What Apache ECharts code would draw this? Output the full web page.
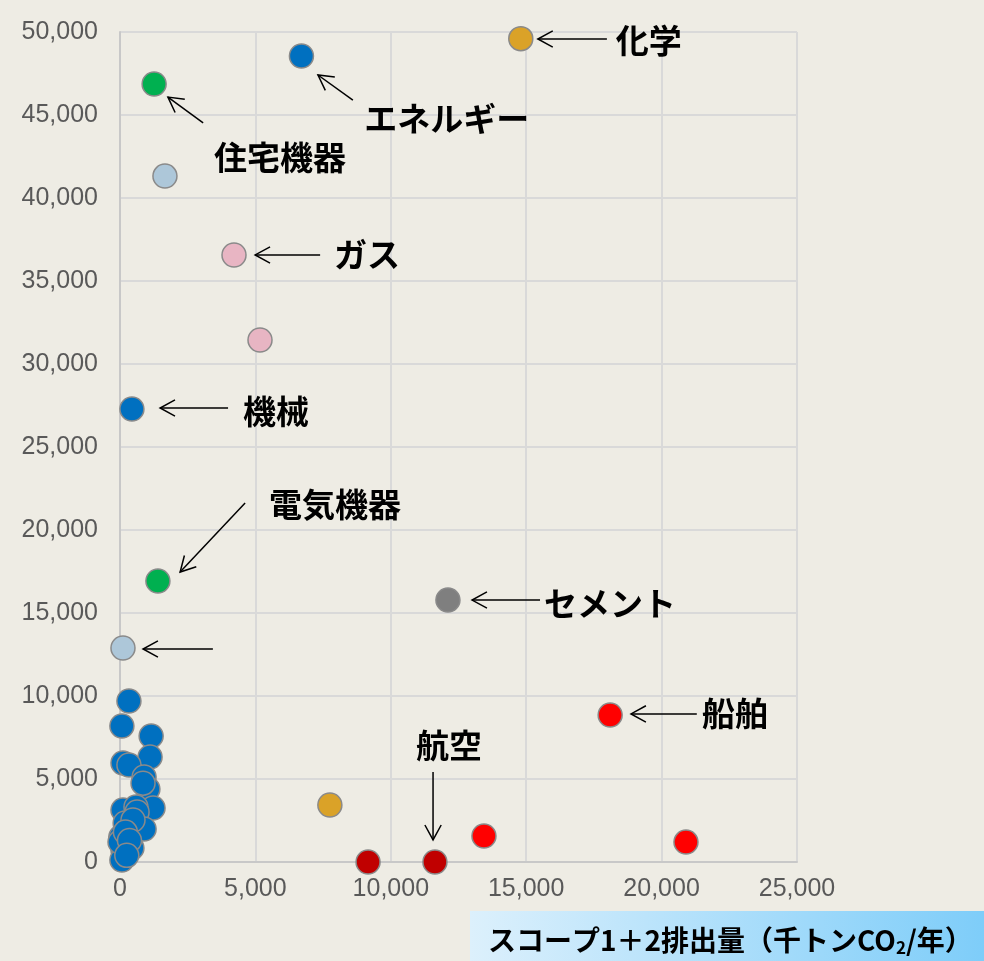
<!DOCTYPE html>
<html>
<head>
<meta charset="utf-8">
<title>スコープ1＋2排出量</title>
<style>
  html, body { margin: 0; padding: 0; background: #eeece4; }
  #main { width: 984px; height: 961px; }
</style>
</head>
<body>
<div id="main"></div>
<script src="https://cdn.jsdelivr.net/npm/echarts@6/dist/echarts.min.js"></script>
<script>
// 散布図のデータ [x, y]
var bluePts = [[6700, 48550], [440, 27290], [330, 9700], [70, 8190], [1150, 7590], [1110, 6330],
  [110, 5960], [330, 5840], [890, 5120], [1030, 4400], [1220, 3250], [110, 3130], [590, 3310],
  [630, 3010], [890, 1990], [190, 2350], [480, 2530], [30, 1500], [300, 900], [110, 720],
  [70, 120], [440, 840], [0, 1200], [200, 1800], [350, 1300], [250, 400], [850, 4750]];
var greenPts = [[1260, 46870], [1400, 16930]];
var lightBluePts = [[1660, 41320], [110, 12890]];
var pinkPts = [[4210, 36570], [5170, 31450]];
var goldPts = [[14800, 49600], [7750, 3430]];
var grayPts = [[12110, 15780]];
var redPts = [[18100, 8860], [20900, 1200], [13440, 1570]];
var darkRedPts = [[9160, 0], [11630, 0]];

// 注記 (データ座標): 矢印の根元, 先端, ラベル位置
var noteNames = ['化学', 'エネルギー', '住宅機器', 'ガス', '機械', '電気機器', '', 'セメント', '船舶', '航空'];
var noteTail = [[17980, 49580], [8600, 45900], [3070, 44520], [7390, 36570], [3990, 27350], [4620, 21630], [3430, 12830], [15510, 15780], [21300, 8920], [11560, 5420]];
var noteTip = [[15430, 49580], [7310, 47410], [1770, 46080], [4990, 36570], [1480, 27350], [2220, 17470], [850, 12830], [13000, 15780], [18870, 8920], [11560, 1330]];
var noteLabel = [[19530, 49520], [12070, 44820], [5910, 42470], [9120, 36570], [5760, 27170], [7940, 21510], null, [18090, 15600], [22710, 8920], [12150, 7050]];

var chart = echarts.init(document.getElementById('main'));

function pts(name, data, color) {
  return {
    name: name,
    type: 'scatter',
    data: data,
    symbolSize: 24,
    itemStyle: { color: color, borderColor: '#8a8a8a', borderWidth: 1.5, opacity: 1 },
    emphasis: { disabled: true }
  };
}

var axisLabel = { color: '#595959', fontSize: 25, fontFamily: 'Liberation Sans, Arial, sans-serif' };

chart.setOption({
  backgroundColor: '#eeece4',
  animation: false,
  grid: { left: 120, right: 187, top: 32, bottom: 99 },
  xAxis: {
    type: 'value', min: 0, max: 25000, interval: 5000,
    axisLine: { show: true, onZero: false, lineStyle: { color: '#c8c8c8', width: 2 } },
    axisTick: { show: false },
    splitLine: { lineStyle: { color: '#d9d9d9', width: 2 } },
    axisLabel: Object.assign({ margin: 15, formatter: function (v) { return v.toLocaleString('en-US'); } }, axisLabel)
  },
  yAxis: {
    type: 'value', min: 0, max: 50000, interval: 5000,
    axisLine: { show: true, lineStyle: { color: '#c8c8c8', width: 2 } },
    axisTick: { show: false },
    splitLine: { lineStyle: { color: '#d9d9d9', width: 2 } },
    axisLabel: Object.assign({ margin: 22, formatter: function (v) { return v.toLocaleString('en-US'); } }, axisLabel)
  },
  series: [
    pts('blue', bluePts, '#0070c0'),
    pts('green', greenPts, '#00b050'),
    pts('lightblue', lightBluePts, '#adc7d9'),
    pts('pink', pinkPts, '#e8b5c3'),
    pts('gold', goldPts, '#daa228'),
    pts('gray', grayPts, '#7f7f7f'),
    pts('red', redPts, '#ff0000'),
    pts('darkred', darkRedPts, '#c00000')
  ]
});

// 矢印と注記ラベルを描く
var g = [];
for (var i = 0; i < noteNames.length; i++) {
  var a = chart.convertToPixel({ gridIndex: 0 }, noteTail[i]);
  var b = chart.convertToPixel({ gridIndex: 0 }, noteTip[i]);
  var ang = Math.atan2(a[1] - b[1], a[0] - b[0]);
  var len = 17, spread = 0.5;
  g.push({
    type: 'line', silent: true,
    shape: { x1: a[0], y1: a[1], x2: b[0], y2: b[1] },
    style: { stroke: '#000', lineWidth: 1.5 }
  });
  g.push({
    type: 'polyline', silent: true,
    shape: { points: [
      [b[0] + len * Math.cos(ang + spread), b[1] + len * Math.sin(ang + spread)],
      [b[0], b[1]],
      [b[0] + len * Math.cos(ang - spread), b[1] + len * Math.sin(ang - spread)]
    ] },
    style: { stroke: '#000', lineWidth: 1.5, fill: null }
  });
  if (noteLabel[i]) {
    var p = chart.convertToPixel({ gridIndex: 0 }, noteLabel[i]);
    g.push({
      type: 'text', silent: true, x: p[0], y: p[1],
      style: {
        text: noteNames[i], fill: '#000', align: 'center', verticalAlign: 'middle',
        font: 'bold 33px "Noto Sans CJK JP", sans-serif'
      }
    });
  }
}

// x軸タイトルの帯
g.push({
  type: 'rect', silent: true,
  shape: { x: 470, y: 911, width: 514, height: 50 },
  style: {
    fill: new echarts.graphic.LinearGradient(0, 0, 1, 0, [
      { offset: 0, color: '#dcf0fc' },
      { offset: 1, color: '#7ecdf9' }
    ])
  }
});
g.push({
  type: 'text', silent: true, x: 488, y: 940,
  style: {
    text: '{a|スコープ1＋2排出量（千トンCO}{s|2}{a|/年）}',
    verticalAlign: 'middle',
    rich: {
      a: { font: 'bold 28px "Noto Sans CJK JP", sans-serif', fill: '#000', color: '#000' },
      s: { font: 'bold 17px "Noto Sans CJK JP", sans-serif', fill: '#000', color: '#000', padding: [15, 0, 0, 0] }
    }
  }
});

chart.setOption({ graphic: g });
</script>
</body>
</html>
